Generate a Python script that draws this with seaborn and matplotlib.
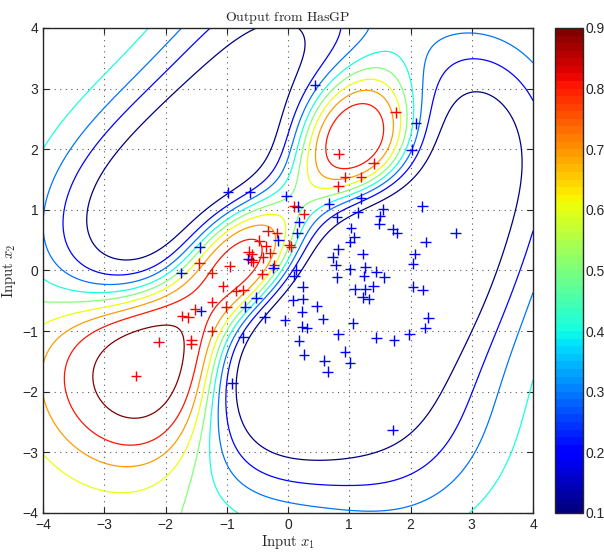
import numpy as np
import pandas as pd
import matplotlib
matplotlib.use("Agg")
import matplotlib.pyplot as plt
import seaborn as sns

# puntos de entrenamiento (clase roja = 1, azul = 0)
red_x1 = [-2.48, -2.11, -1.58, -1.58, -1.73, -1.63, -1.52, -1.24, -1.24, -1.01,
          -1.06, -1.24, -1.45, -0.95, -0.85, -0.73, -0.64, -0.59, -0.60, -0.57,
          -0.47, -0.36, -0.41, -0.29, -0.33, -0.18, -0.23, -0.42, 0.02, 0.05,
          0.10, 0.26, 0.82, 0.93, 1.19, 1.40, 0.83, 1.76]
red_x2 = [-1.74, -1.18, -1.15, -1.21, -0.75, -0.77, -0.64, -1.00, -0.52, -0.60,
          -0.26, -0.04, 0.12, 0.07, -0.34, -0.32, 0.31, 0.27, 0.17, 0.14,
          0.49, 0.40, 0.22, 0.29, 0.65, 0.62, 0.09, -0.06, 0.42, 0.39,
          1.06, 0.93, 1.39, 1.54, 1.54, 1.77, 1.92, 2.61]

blue_x1 = [-0.98, -0.62, -1.44, -1.74, -1.42, -0.65, -0.16, -0.03, 0.15, 0.16,
           -0.24, 0.13, -0.70, -0.52, -0.38, -0.05, 0.08, 0.10, -0.73, -0.91,
           0.44, 0.67, 1.19, 1.14, 0.18, 0.80, 1.55, 1.50, 1.49, 2.19,
           1.03, 1.08, 1.01, 1.71, 1.78, 2.25, 0.82, 1.22, 0.73, 0.78,
           2.07, 2.04, 1.01, 1.26, 1.44, 1.57, 0.80, 1.24, 0.24, 1.09,
           1.26, 1.39, 1.22, 1.32, 2.04, 2.20, 0.24, 0.47, 0.23, 0.57,
           2.29, 1.06, 0.23, 0.31, 2.24, 0.82, 1.98, 1.44, 1.73, 0.18,
           0.93, 0.26, 0.59, 1.01, 0.65, 1.71, 2.09, 2.02, 2.74]
blue_x2 = [1.29, 1.29, 0.38, -0.04, -0.67, 0.19, 0.50, 1.23, 0.62, 1.05,
           0.04, 0.01, -0.60, -0.45, -0.77, -0.82, -0.49, -0.09, -1.10, -1.86,
           3.06, 1.10, 1.19, 0.96, 0.80, 0.88, 1.01, 0.90, 0.77, 1.06,
           0.70, 0.55, 0.47, 0.68, 0.62, 0.47, 0.35, 0.27, 0.22, 0.09,
           0.27, 0.11, 0.02, 0.05, -0.02, -0.11, -0.11, -0.09, -0.27, -0.31,
           -0.31, -0.26, -0.44, -0.47, -0.27, -0.32, -0.47, -0.59, -0.68, -0.80,
           -0.78, -0.87, -0.93, -0.95, -0.95, -1.05, -1.05, -1.11, -1.15, -1.16,
           -1.34, -1.39, -1.49, -1.52, -1.67, -2.63, 2.43, 1.99, 0.62]

levels = [0.1, 0.2, 0.3, 0.4, 0.5, 0.6, 0.7, 0.8, 0.9]

df = pd.DataFrame({
    "x1": red_x1 + blue_x1,
    "x2": red_x2 + blue_x2,
    "clase": ["roja"] * len(red_x1) + ["azul"] * len(blue_x1),
})

# clasificador GP (aprox. de Laplace, verosimilitud logistica, kernel RBF)
X = df[["x1", "x2"]].to_numpy()
t = (df["clase"] == "roja").to_numpy(float)
ell, s2 = 1.15, 20.0

def kern(a, b):
    d2 = ((a[:, None, :] - b[None, :, :]) ** 2).sum(-1)
    return s2 * np.exp(-d2 / (2 * ell ** 2))

K = kern(X, X)
n = len(X)
f = np.zeros(n)
for _ in range(100):
    pi = 1 / (1 + np.exp(-f))
    W = pi * (1 - pi)
    sW = np.sqrt(W)
    L = np.linalg.cholesky(np.eye(n) + sW[:, None] * K * sW[None, :])
    b = W * f + (t - pi)
    a = b - sW * np.linalg.solve(L.T, np.linalg.solve(L, sW * (K @ b)))
    f = K @ a
pi = 1 / (1 + np.exp(-f))

g = np.linspace(-4, 4, 241)
G1, G2 = np.meshgrid(g, g)
fm = kern(np.c_[G1.ravel(), G2.ravel()], X) @ (t - pi)
P = (1 / (1 + np.exp(-fm))).reshape(G1.shape)

sns.set_style("ticks")
plt.rcParams["mathtext.fontset"] = "cm"
plt.rcParams["font.family"] = ["Liberation Sans", "DejaVu Sans"]

fig = plt.figure(figsize=(6.04, 5.52), dpi=100)
ax = fig.add_axes([0.0712, 0.0707, 0.8113, 0.8786])
cax = fig.add_axes([0.9189, 0.0707, 0.0464, 0.8786])

cmap = plt.get_cmap("jet", 64)
ax.contour(G1, G2, P, levels=levels, cmap=cmap, vmin=0.1, vmax=0.9, linewidths=0.9)

sns.scatterplot(data=df, x="x1", y="x2", hue="clase", palette={"roja": "red", "azul": "blue"},
                marker="+", s=60, linewidth=1.0, legend=False, ax=ax, zorder=3)

ax.set_xlim(-4, 4)
ax.set_ylim(-4, 4)
ax.set_xticks(range(-4, 5))
ax.set_yticks(range(-4, 5))
ax.grid(True, linestyle=(0, (1, 4)), color="0.35", linewidth=0.8)
ax.tick_params(direction="in", top=True, right=True, labelsize=10, length=4)
for s in ax.spines.values():
    s.set_linewidth(1.0)
ax.set_title(r"$\mathrm{Output\ from\ HasGP}$", fontsize=10, pad=5)
ax.set_xlabel(r"$\mathrm{Input}\ x_1$", fontsize=10.5, labelpad=1)
ax.set_ylabel(r"$\mathrm{Input}\ x_2$", fontsize=10.5, labelpad=3)

sm = matplotlib.cm.ScalarMappable(cmap=cmap, norm=plt.Normalize(0.1, 0.9))
cb = fig.colorbar(sm, cax=cax, ticks=levels)
cb.ax.tick_params(direction="in", left=True, right=True, labelsize=10, length=3, pad=2)
cb.ax.set_yticklabels([str(v) for v in levels])
cb.outline.set_linewidth(1.0)

fig.savefig("out.png", dpi=100)
